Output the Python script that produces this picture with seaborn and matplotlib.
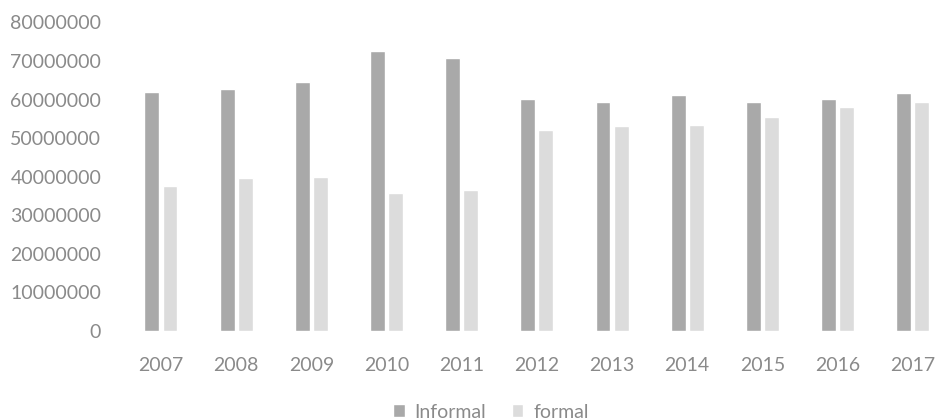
import matplotlib
matplotlib.use("Agg")
import matplotlib.pyplot as plt
import pandas as pd
import seaborn as sns

years = ["2007", "2008", "2009", "2010", "2011", "2012", "2013", "2014", "2015", "2016", "2017"]
informal = [62.0e6, 62.7e6, 64.6e6, 72.6e6, 70.7e6, 60.2e6, 59.3e6, 61.1e6, 59.4e6, 60.2e6, 61.6e6]
formal = [37.6e6, 39.6e6, 40.0e6, 35.7e6, 36.5e6, 52.1e6, 53.2e6, 53.4e6, 55.4e6, 58.1e6, 59.5e6]
series_names = ["Informal", "formal"]
y_ticks = [0, 10000000, 20000000, 30000000, 40000000, 50000000, 60000000, 70000000, 80000000]

df = pd.DataFrame({
    "year": years * 2,
    "value": informal + formal,
    "series": [series_names[0]] * len(years) + [series_names[1]] * len(years),
})

sns.set_theme(style="white")
plt.rcParams["font.family"] = ["Lato", "DejaVu Sans"]

text_grey = "#8a8a8a"
fig = plt.figure(figsize=(9.36, 4.2), dpi=100)
ax = fig.add_axes([123.4 / 936, 89 / 420, (936 - 123.4) / 936, 308.5 / 420])

sns.barplot(
    data=df, x="year", y="value", hue="series", ax=ax,
    palette=["#a9a9a9", "#dcdcdc"], width=0.48, gap=0.17,
    saturation=1, errorbar=None, legend=True,
)

ax.set_ylim(0, 80000000)
ax.set_xlim(-0.5, 10.31)
ax.set_yticks(y_ticks)
ax.set_yticklabels([str(t) for t in y_ticks])
ax.set_xlabel("")
ax.set_ylabel("")
sns.despine(ax=ax, left=True, bottom=True)
ax.tick_params(axis="both", length=0, labelsize=14, colors=text_grey)
ax.tick_params(axis="y", pad=16)
ax.tick_params(axis="x", pad=19)

leg = ax.legend(
    loc="center", bbox_to_anchor=(491 / 936, 8 / 420), bbox_transform=fig.transFigure,
    ncol=2, frameon=False, fontsize=14, handlelength=0.6, handleheight=0.6,
    handletextpad=0.5, columnspacing=1.3,
)
for t in leg.get_texts():
    t.set_color(text_grey)

fig.savefig("out.png", dpi=100)
